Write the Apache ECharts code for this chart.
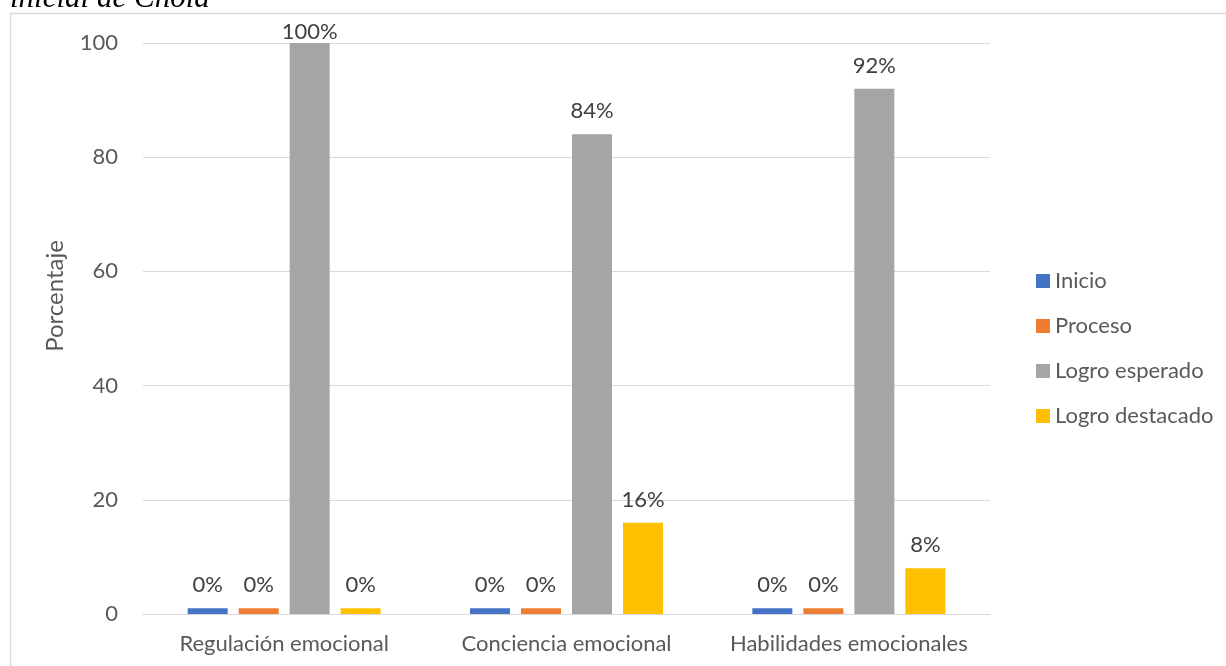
<!DOCTYPE html>
<html><head><meta charset="utf-8">
<script src="https://cdn.jsdelivr.net/npm/echarts@6/dist/echarts.min.js"></script>
<style>html,body{margin:0;padding:0;background:#fff}#c{width:1226px;height:666px}</style>
</head><body><div id="c"></div>
<script>
const categories = ['Regulación emocional', 'Conciencia emocional', 'Habilidades emocionales'];
const seriesNames = ['Inicio', 'Proceso', 'Logro esperado', 'Logro destacado'];
const colors = ['#4472C4', '#ED7D31', '#A5A5A5', '#FFC000'];
// bar heights as drawn (zero categories shown as a thin stub)
const inicio = [1, 1, 1];
const proceso = [1, 1, 1];
const logroEsperado = [100, 84, 92];
const logroDestacado = [1, 16, 8];
// printed labels
const inicioLbl = ['0%', '0%', '0%'];
const procesoLbl = ['0%', '0%', '0%'];
const esperadoLbl = ['100%', '84%', '92%'];
const destacadoLbl = ['0%', '16%', '8%'];
const yTicks = [0, 20, 40, 60, 80, 100];

const values = [inicio, proceso, logroEsperado, logroDestacado];
const labels = [inicioLbl, procesoLbl, esperadoLbl, destacadoLbl];
const font = 'Lato, "Open Sans", sans-serif';
const yMax = yTicks[yTicks.length - 1];

const chart = echarts.init(document.getElementById('c'), null, {renderer: 'canvas'});
chart.setOption({
  animation: false,
  color: colors,
  graphic: [
    {type: 'rect', shape: {x: 10.5, y: 13.5, width: 1300, height: 700}, style: {fill: 'none', stroke: '#d9d9d9', lineWidth: 1.5}, silent: true},
    {type: 'text', x: 10, y: -1, style: {text: 'inicial de Chola', font: 'italic 31px "Liberation Serif", "DejaVu Serif", serif', fill: '#000', verticalAlign: 'middle'}},
    {type: 'text', x: 55, y: 296, rotation: Math.PI / 2, style: {text: 'Porcentaje', font: '24px ' + font, fill: '#595959', align: 'center', verticalAlign: 'middle'}}
  ],
  grid: {left: 143, right: 236, top: 43, bottom: 52},
  legend: {
    orient: 'vertical', left: 1031, top: 265, itemWidth: 14, itemHeight: 14, itemGap: 23,
    icon: 'rect',
    textStyle: {fontFamily: font, fontSize: 22, color: '#595959'},
    data: seriesNames
  },
  xAxis: {
    type: 'category', data: categories,
    axisLine: {lineStyle: {color: '#d9d9d9', width: 1}},
    axisTick: {show: false},
    axisLabel: {interval: 0, hideOverlap: false, fontFamily: font, fontSize: 22, color: '#595959', margin: 19}
  },
  yAxis: {
    type: 'value', min: yTicks[0], max: yMax, interval: 20,
    axisLine: {show: false}, axisTick: {show: false},
    axisLabel: {fontFamily: font, fontSize: 22, color: '#595959', margin: 25},
    splitLine: {lineStyle: {color: '#d9d9d9', width: 1}}
  },
  series: seriesNames.map((n, i) => ({
    name: n, type: 'bar', barWidth: 40, barGap: '27.5%',
    data: values[i].map(v => v >= yMax ? {value: v, label: {distance: 0}} : v),
    label: {
      show: true, position: 'top', distance: 12,
      fontFamily: font, fontSize: 22, color: '#404040',
      formatter: p => labels[i][p.dataIndex]
    }
  }))
});
</script></body></html>
